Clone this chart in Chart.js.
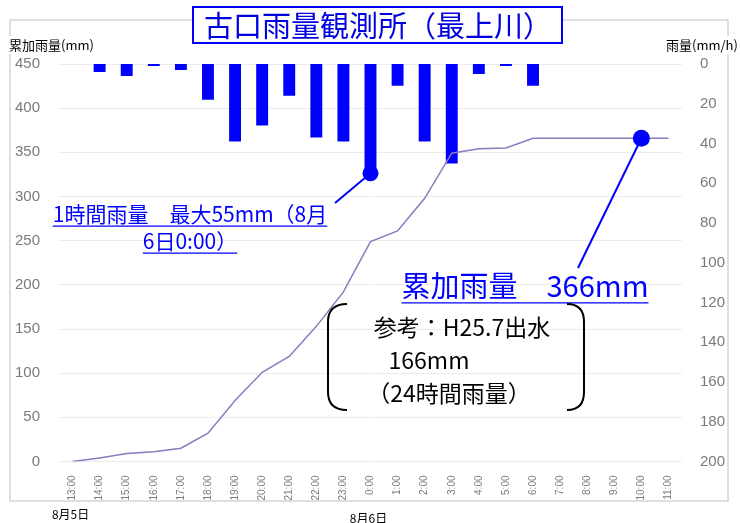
<!DOCTYPE html>
<html lang="ja">
<head>
<meta charset="utf-8">
<title>古口雨量観測所（最上川）</title>
<script src="https://cdn.jsdelivr.net/npm/chart.js@4.4.1/dist/chart.umd.min.js"></script>
<style>
  html, body { margin: 0; padding: 0; background: #fff; }
  canvas { display: block; }
</style>
</head>
<body>
<canvas id="rainChart" width="740" height="523"></canvas>
<script>
// data
const hours = ['13:00', '14:00', '15:00', '16:00', '17:00', '18:00', '19:00', '20:00', '21:00', '22:00', '23:00',
               '0:00', '1:00', '2:00', '3:00', '4:00', '5:00', '6:00', '7:00', '8:00', '9:00', '10:00', '11:00'];
const hourlyRain = [0, 4, 6, 1, 3, 18, 39, 31, 16, 37, 39, 55, 11, 39, 50, 5, 1, 11, 0, 0, 0, 0, 0];
const totalRain = [0, 4, 9, 11, 15, 32, 69, 101, 119, 153, 192, 249, 261, 298, 349, 354, 355, 366, 366, 366, 366, 366, 366];
const dateLabels = ['8月5日', '8月6日'];
const dateAt = ['13:00', '0:00'];
const totalTicks = [0, 450, 50];   // min, max, step
const hourlyTicks = [0, 200, 20];

const JP = "'Noto Sans CJK JP', sans-serif";
const BLUE = '#0000ff';

function underlinedText(ctx, text, x, y, font, color) {
    ctx.font = font;
    ctx.fillStyle = color;
    ctx.strokeStyle = color;
    ctx.textAlign = 'center';
    ctx.textBaseline = 'middle';
    ctx.fillText(text, x, y);
    const w = ctx.measureText(text).width;
    ctx.lineWidth = 1.2;
    const size = parseInt(font.match(/(\d+)px/)[1], 10);
    ctx.beginPath();
    ctx.moveTo(x - w / 2, y + size * 0.58);
    ctx.lineTo(x + w / 2, y + size * 0.58);
    ctx.stroke();
}

// Frame, titles and call-outs
const decorations = {
    id: 'decorations',
    beforeDraw(chart) {
        const ctx = chart.ctx;
        ctx.save();
        ctx.strokeStyle = '#d4d4d4';
        ctx.lineWidth = 1.5;
        ctx.strokeRect(10, 20, 718, 481);
        ctx.restore();
    },
    afterDraw(chart) {
        const ctx = chart.ctx;
        const x = chart.scales.x;
        const yL = chart.scales.y;
        const yR = chart.scales.y1;
        ctx.save();

        // title box
        ctx.fillStyle = '#fff';
        ctx.fillRect(193, 7, 369, 36);
        ctx.strokeStyle = BLUE;
        ctx.lineWidth = 2;
        ctx.strokeRect(193, 7, 369, 36);
        ctx.fillStyle = '#0000e0';
        ctx.font = '29px ' + JP;
        ctx.textAlign = 'center';
        ctx.textBaseline = 'middle';
        ctx.fillText('古口雨量観測所（最上川）', 378, 26);

        // axis titles
        ctx.font = '13px ' + JP;
        ctx.fillStyle = '#fff';
        ctx.fillRect(8, 36, 92, 18);
        ctx.fillRect(664, 36, 76, 18);
        ctx.fillStyle = '#000';
        ctx.textAlign = 'left';
        ctx.fillText('累加雨量(mm)', 9, 45);
        ctx.fillText('雨量(mm/h)', 666, 45);

        // date labels under the time axis
        ctx.font = '12px ' + JP;
        ctx.textAlign = 'center';
        dateLabels.forEach((d, i) => {
            const px = x.getPixelForValue(hours.indexOf(dateAt[i]));
            ctx.fillText(d, px - 2, 514 + i * 4);
        });

        // max hourly rain call-out
        const iMax = hourlyRain.indexOf(Math.max(...hourlyRain));
        const mx = x.getPixelForValue(iMax);
        const my = yR.getPixelForValue(hourlyRain[iMax]);
        ctx.strokeStyle = BLUE;
        ctx.fillStyle = BLUE;
        ctx.lineWidth = 2;
        ctx.beginPath();
        ctx.moveTo(mx, my);
        ctx.lineTo(335, 203);
        ctx.stroke();
        ctx.beginPath();
        ctx.arc(mx, my, 8, 0, Math.PI * 2);
        ctx.fill();
        underlinedText(ctx, '1時間雨量　最大55mm（8月', 190, 214, '21px ' + JP, BLUE);
        underlinedText(ctx, '6日0:00）', 190, 241, '21px ' + JP, BLUE);

        // total rain call-out
        const tx = x.getPixelForValue(hours.indexOf('10:00'));
        const ty = yL.getPixelForValue(totalRain[totalRain.length - 1]);
        ctx.strokeStyle = BLUE;
        ctx.lineWidth = 2;
        ctx.beginPath();
        ctx.moveTo(tx, ty);
        ctx.lineTo(578, 268);
        ctx.stroke();
        ctx.beginPath();
        ctx.arc(tx, ty, 8.5, 0, Math.PI * 2);
        ctx.fill();
        underlinedText(ctx, '累加雨量　366mm', 525, 286, '29px ' + JP, BLUE);

        // reference note in brackets
        ctx.strokeStyle = '#000';
        ctx.lineWidth = 2;
        ctx.beginPath();
        ctx.moveTo(347, 304);
        ctx.quadraticCurveTo(328, 304, 328, 322);
        ctx.lineTo(328, 392);
        ctx.quadraticCurveTo(328, 410, 347, 410);
        ctx.moveTo(567, 304);
        ctx.quadraticCurveTo(584, 304, 584, 322);
        ctx.lineTo(584, 392);
        ctx.quadraticCurveTo(584, 410, 567, 410);
        ctx.stroke();
        ctx.fillStyle = '#000';
        ctx.font = '23px ' + JP;
        ctx.textAlign = 'center';
        ctx.fillText('参考：H25.7出水', 462, 327);
        ctx.fillText('166mm', 429, 360);
        ctx.fillText('（24時間雨量）', 449, 393);

        ctx.restore();
    }
};

document.addEventListener('DOMContentLoaded', function() {
    const canvas = document.getElementById('rainChart');
    new Chart(canvas, {
        type: 'bar',
        data: {
            labels: hours,
            datasets: [{
                type: 'line',
                label: '累加雨量',
                data: totalRain,
                yAxisID: 'y',
                borderColor: '#8a7bbf',
                borderWidth: 1.5,
                pointRadius: 0,
                tension: 0,
                order: 0
            }, {
                type: 'bar',
                label: '雨量',
                data: hourlyRain,
                yAxisID: 'y1',
                backgroundColor: BLUE,
                barPercentage: 0.44,
                categoryPercentage: 1,
                order: 1
            }]
        },
        options: {
            responsive: false,
            animation: false,
            devicePixelRatio: 1,
            layout: { padding: { top: 64, left: 0, right: 0, bottom: 0 } },
            plugins: {
                legend: { display: false },
                tooltip: { enabled: false }
            },
            scales: {
                x: {
                    grid: { display: false },
                    border: { display: false },
                    ticks: {
                        autoSkip: false,
                        minRotation: 90,
                        maxRotation: 90,
                        padding: 6,
                        color: '#7a7a7a',
                        font: { family: "'Liberation Sans', sans-serif", size: 10 }
                    },
                    afterFit: s => { s.height = 61.5; }
                },
                y: {
                    position: 'left',
                    min: totalTicks[0],
                    max: totalTicks[1],
                    grid: { color: '#ececec', drawTicks: false },
                    border: { display: false },
                    ticks: {
                        stepSize: totalTicks[2],
                        padding: 19,
                        color: '#7a7a7a',
                        font: { family: "'Liberation Sans', sans-serif", size: 15 }
                    },
                    afterFit: s => { s.width = 59; }
                },
                y1: {
                    position: 'right',
                    reverse: true,
                    min: hourlyTicks[0],
                    max: hourlyTicks[1],
                    grid: { display: false, drawTicks: false },
                    border: { display: false },
                    ticks: {
                        stepSize: hourlyTicks[2],
                        padding: 18,
                        color: '#7a7a7a',
                        font: { family: "'Liberation Sans', sans-serif", size: 15 }
                    },
                    afterFit: s => { s.width = 58; }
                }
            }
        },
        plugins: [decorations]
    });
});
</script>
</body>
</html>
